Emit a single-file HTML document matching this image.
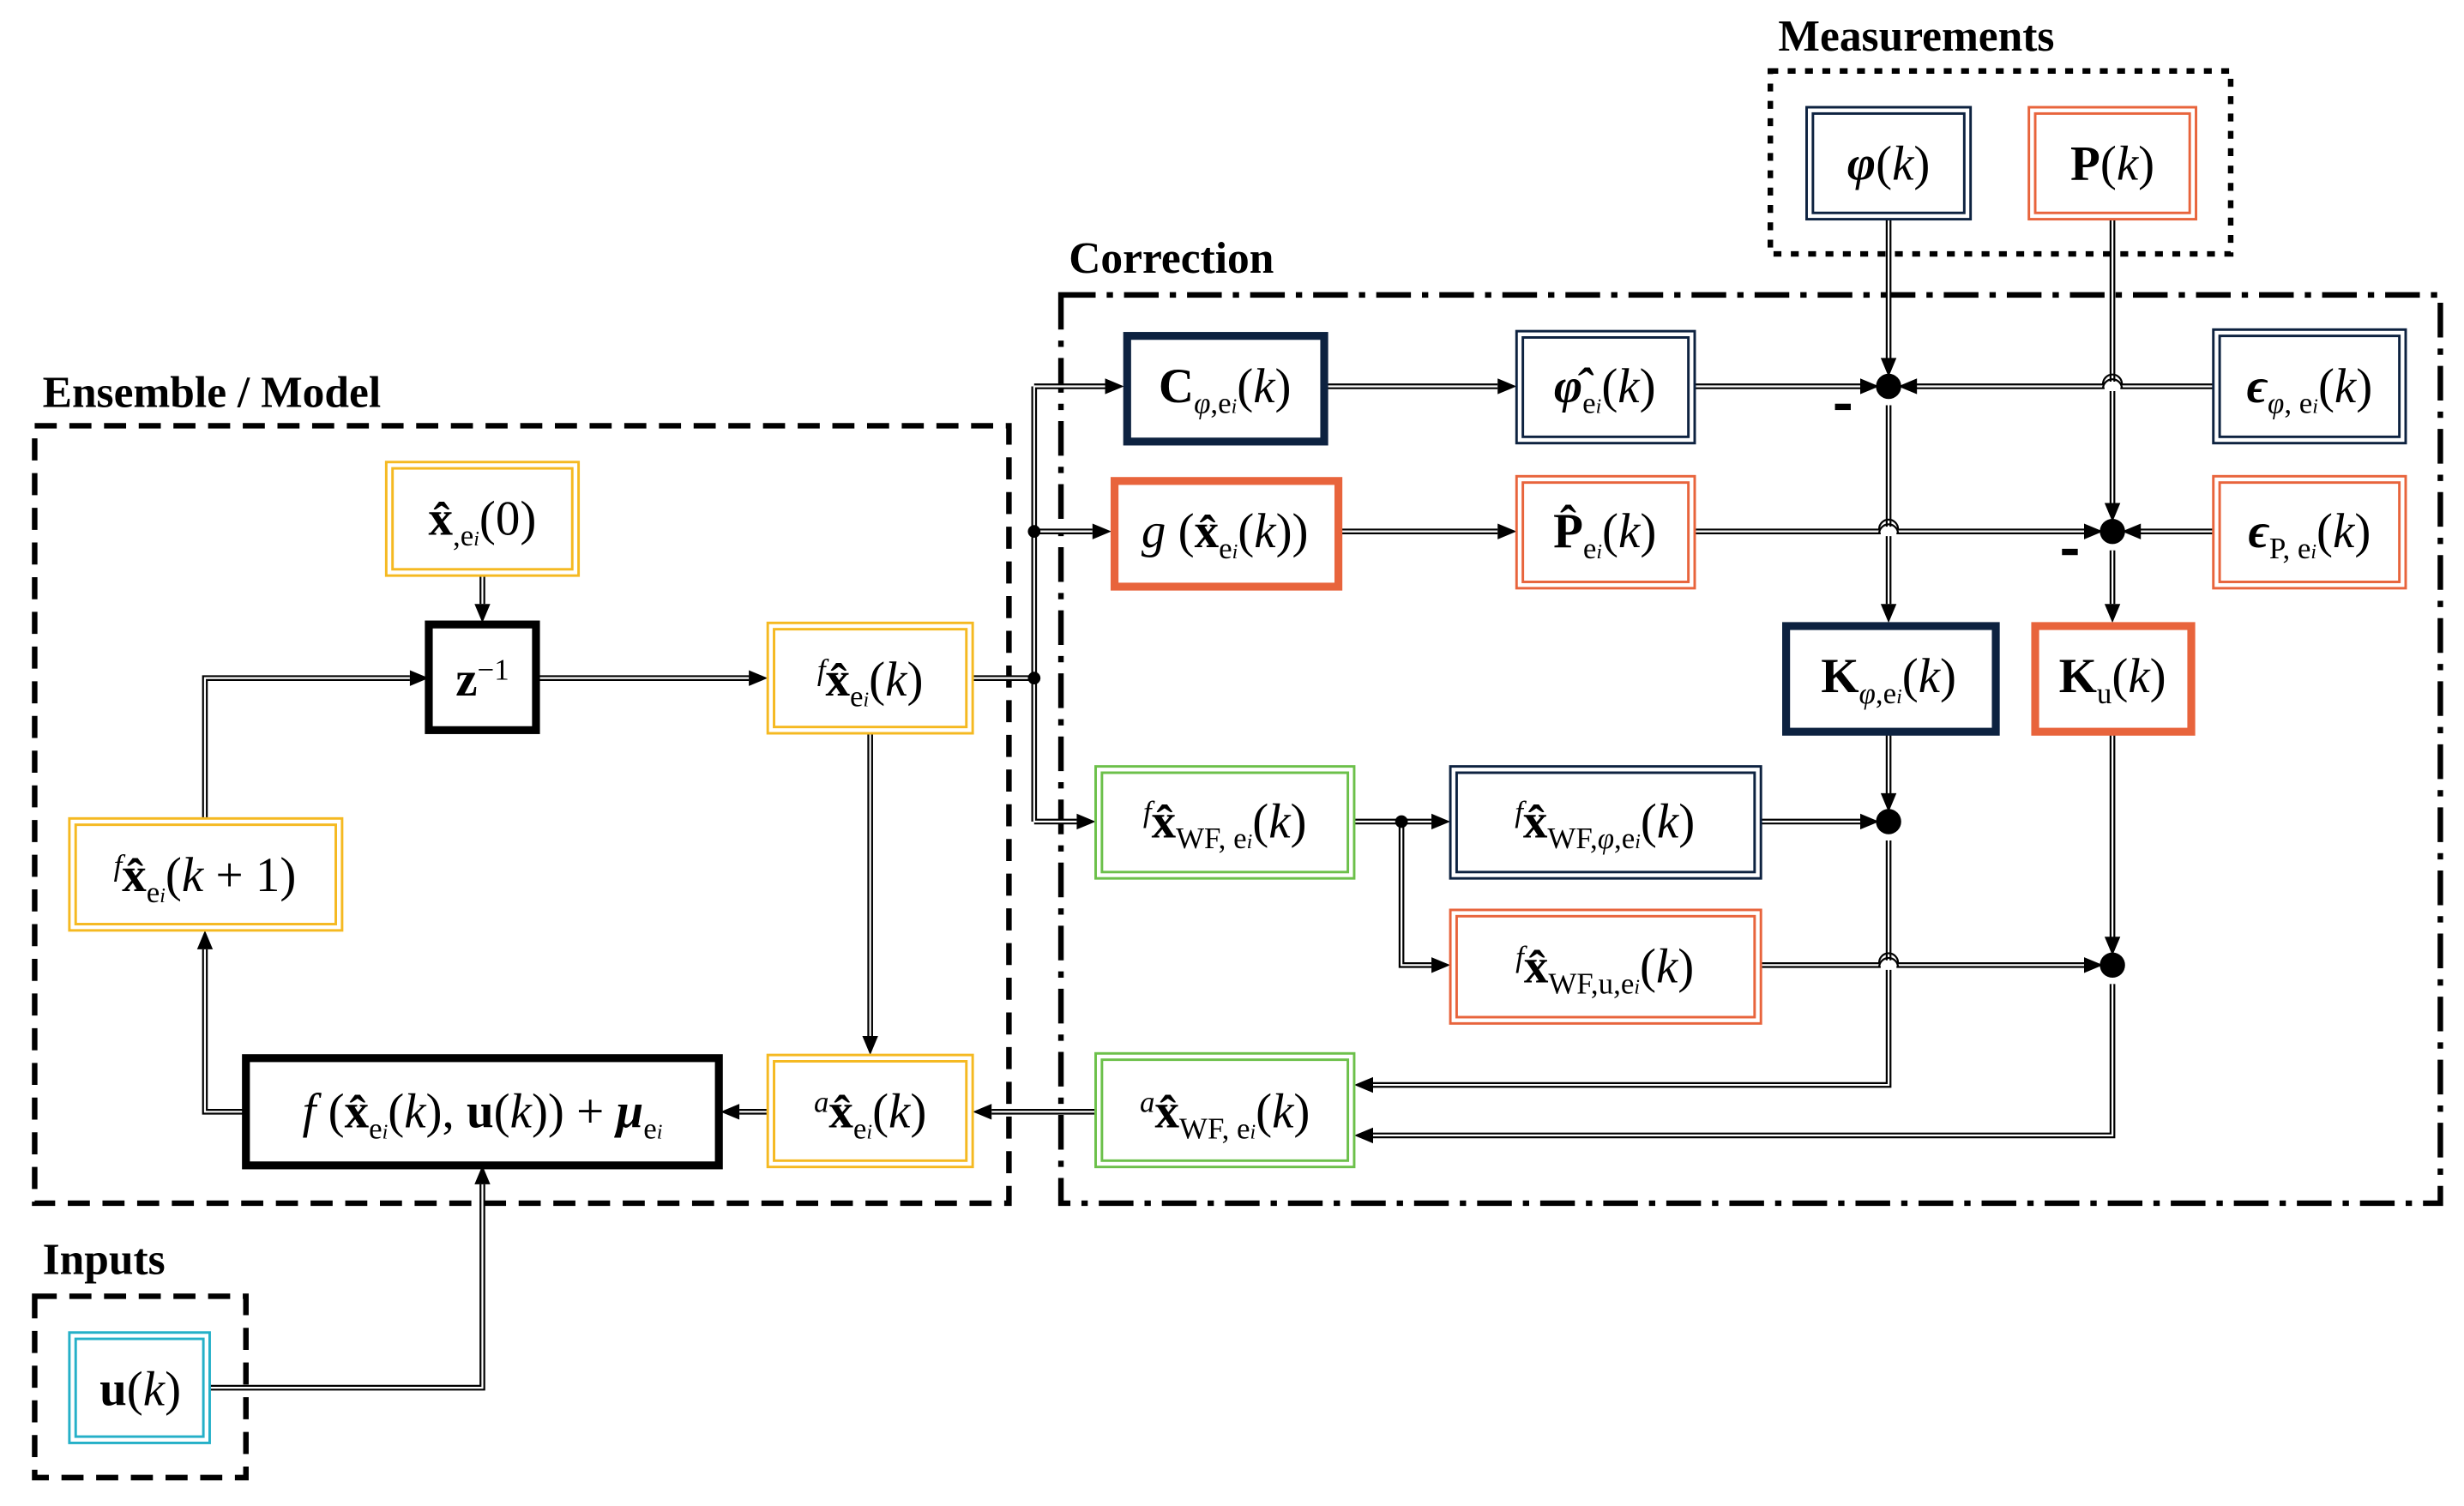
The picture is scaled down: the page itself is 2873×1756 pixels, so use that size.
<!DOCTYPE html>
<html><head><meta charset="utf-8"><style>
html,body{margin:0;padding:0;background:#fff}
svg{display:block}
text{font-family:"Liberation Serif",serif;font-size:31px;fill:#000}
.t{font-family:"Liberation Serif",serif;font-weight:bold;font-size:28px}
.s{font-size:19px}
.b{font-weight:bold;font-style:normal}
.i{font-style:italic}
</style></head><body>
<svg width="2873" height="1756" viewBox="0 0 1563 955" preserveAspectRatio="none" xmlns="http://www.w3.org/2000/svg">
<defs><polygon id="ar" points="0,0 -12,-5 -12,5" fill="#000"/>
<g id="L">
<path d="M306,365V383"/>
<path d="M340,430H475"/>
<path d="M617,430H656 M656,245V521 M656,245H701 M656,337H693 M656,521H683"/>
<path d="M552,465V657"/>
<path d="M487,705H469"/>
<path d="M155,705H130V602"/>
<path d="M130,519V430H260"/>
<path d="M133,880H306V751"/>
<path d="M840,245H950 M1075,245H1186 M1404,245H1210 M1198,139V233"/>
<path d="M849,337H950 M1075,337H1328 M1404,337H1352 M1340,139V325"/>
<path d="M1198,257V383 M1340,349V383"/>
<path d="M859,521H908 M889,521V612H908"/>
<path d="M1117,521H1186 M1198,464V509"/>
<path d="M1117,612H1328 M1340,464V600"/>
<path d="M1198,533V688H871 M1340,624V720H871"/>
<path d="M695,705H629"/>
</g></defs>
<rect width="1563" height="955" fill="#fff"/>
<g fill="none" stroke="#000" stroke-width="3.5">
<rect x="22" y="270" width="618" height="493" stroke-dasharray="14,8"/>
<rect x="22" y="822" width="134" height="115" stroke-dasharray="14,8"/>
<rect x="673" y="187" width="875" height="576" stroke-dasharray="22,7,4,7"/>
<rect x="1123" y="45" width="292" height="116" stroke-dasharray="5,6"/>
</g>
<text class="t" x="27" y="258">Ensemble / Model</text>
<text class="t" x="27" y="808">Inputs</text>
<text class="t" x="678" y="173">Correction</text>
<text class="t" x="1128" y="32">Measurements</text>
<g fill="none">
<use href="#L" stroke="#000" stroke-width="3.6"/>
<use href="#L" stroke="#fff" stroke-width="1.2"/>
</g>
<g fill="none" stroke-width="1.2">
<g stroke="#fff" stroke-width="6"><path d="M1335,245h10 M1193,337h10 M1193,612h10"/></g>
<g stroke="#000"><path d="M1334,243.5a6,6 0 0 1 12,0 M1334,246.5a6,6 0 0 1 12,0 M1192,335.5a6,6 0 0 1 12,0 M1192,338.5a6,6 0 0 1 12,0 M1192,610.5a6,6 0 0 1 12,0 M1192,613.5a6,6 0 0 1 12,0"/></g>
</g>
<g>
<use href="#ar" transform="translate(306,395) rotate(90)"/>
<use href="#ar" transform="translate(487,430)"/>
<use href="#ar" transform="translate(713,245)"/>
<use href="#ar" transform="translate(705,337)"/>
<use href="#ar" transform="translate(695,521)"/>
<use href="#ar" transform="translate(552,669) rotate(90)"/>
<use href="#ar" transform="translate(457,705) rotate(180)"/>
<use href="#ar" transform="translate(130,590) rotate(-90)"/>
<use href="#ar" transform="translate(272,430)"/>
<use href="#ar" transform="translate(306,739) rotate(-90)"/>
<use href="#ar" transform="translate(962,245)"/>
<use href="#ar" transform="translate(1192,245)"/>
<use href="#ar" transform="translate(1204,245) rotate(180)"/>
<use href="#ar" transform="translate(1198,239) rotate(90)"/>
<use href="#ar" transform="translate(962,337)"/>
<use href="#ar" transform="translate(1334,337)"/>
<use href="#ar" transform="translate(1346,337) rotate(180)"/>
<use href="#ar" transform="translate(1340,331) rotate(90)"/>
<use href="#ar" transform="translate(1198,395) rotate(90)"/>
<use href="#ar" transform="translate(1340,395) rotate(90)"/>
<use href="#ar" transform="translate(920,521)"/>
<use href="#ar" transform="translate(920,612)"/>
<use href="#ar" transform="translate(1192,521)"/>
<use href="#ar" transform="translate(1198,515) rotate(90)"/>
<use href="#ar" transform="translate(1334,612)"/>
<use href="#ar" transform="translate(1340,606) rotate(90)"/>
<use href="#ar" transform="translate(859,688) rotate(180)"/>
<use href="#ar" transform="translate(859,720) rotate(180)"/>
<use href="#ar" transform="translate(617,705) rotate(180)"/>
</g>
<g fill="#000">
<circle cx="656" cy="430" r="4"/><circle cx="656" cy="337" r="4"/><circle cx="889" cy="521" r="4"/>
<circle cx="1198" cy="245" r="8"/><circle cx="1340" cy="337" r="8"/>
<circle cx="1198" cy="521" r="8"/><circle cx="1340" cy="612" r="8"/>
<rect x="1164" y="256" width="10" height="4"/><rect x="1308" y="348" width="10" height="4"/>
</g>
<g fill="#fff" stroke-width="1.6">
<g stroke="#f5b921">
<rect x="245" y="293" width="122" height="72"/><rect x="249" y="297" width="114" height="64"/>
<rect x="487" y="395" width="130" height="70"/><rect x="491" y="399" width="122" height="62"/>
<rect x="44" y="519" width="173" height="71"/><rect x="48" y="523" width="165" height="63"/>
<rect x="487" y="669" width="130" height="71"/><rect x="491" y="673" width="122" height="63"/>
</g>
<g stroke="#25b0c8">
<rect x="44" y="845" width="89" height="70"/><rect x="48" y="849" width="81" height="62"/>
</g>
<g stroke="#0d2240">
<rect x="962" y="210" width="113" height="71"/><rect x="966" y="214" width="105" height="63"/>
<rect x="1146" y="68" width="104" height="71"/><rect x="1150" y="72" width="96" height="63"/>
<rect x="1404" y="209" width="122" height="72"/><rect x="1408" y="213" width="114" height="64"/>
<rect x="920" y="486" width="197" height="71"/><rect x="924" y="490" width="189" height="63"/>
</g>
<g stroke="#e8643c">
<rect x="962" y="302" width="113" height="71"/><rect x="966" y="306" width="105" height="63"/>
<rect x="1287" y="68" width="106" height="71"/><rect x="1291" y="72" width="98" height="63"/>
<rect x="1404" y="302" width="122" height="71"/><rect x="1408" y="306" width="114" height="63"/>
<rect x="920" y="577" width="197" height="72"/><rect x="924" y="581" width="189" height="64"/>
</g>
<g stroke="#6cc04a">
<rect x="695" y="486" width="164" height="71"/><rect x="699" y="490" width="156" height="63"/>
<rect x="695" y="668" width="164" height="72"/><rect x="699" y="672" width="156" height="64"/>
</g>
<g stroke-width="5">
<rect x="272" y="396" width="68" height="67" stroke="#000"/>
<rect x="156" y="671" width="300" height="68" stroke="#000"/>
<rect x="715" y="213" width="125" height="67" stroke="#0d2240"/>
<rect x="707" y="305" width="142" height="67" stroke="#e8643c"/>
<rect x="1133" y="397" width="133" height="67" stroke="#0d2240"/>
<rect x="1291" y="397" width="99" height="67" stroke="#e8643c"/>
</g>
</g>
<g text-anchor="middle">
<text x="306" y="339"><tspan class="b">x̂</tspan><tspan class="s" dy="7">,e</tspan><tspan class="i" font-size="13">i</tspan><tspan dy="-7">(0)</tspan></text>
<text x="306" y="441"><tspan class="b">z</tspan><tspan class="s" dy="-10">−1</tspan></text>
<text x="552" y="441"><tspan class="s i" dy="-10">f</tspan><tspan class="b" dy="10">x̂</tspan><tspan class="s" dy="7">e</tspan><tspan class="i" font-size="13">i</tspan><tspan dy="-7">(</tspan><tspan class="i">k</tspan>)</text>
<text x="130" y="565"><tspan class="s i" dy="-10">f</tspan><tspan class="b" dy="10">x̂</tspan><tspan class="s" dy="7">e</tspan><tspan class="i" font-size="13">i</tspan><tspan dy="-7">(</tspan><tspan class="i">k</tspan> + 1)</text>
<text x="306" y="715"><tspan class="i">f</tspan> (<tspan class="b">x̂</tspan><tspan class="s" dy="7">e</tspan><tspan class="i" font-size="13">i</tspan><tspan dy="-7">(</tspan><tspan class="i">k</tspan>), <tspan class="b">u</tspan>(<tspan class="i">k</tspan>)) + <tspan class="b i">μ</tspan><tspan class="s" dy="7">e</tspan><tspan class="i" font-size="13">i</tspan></text>
<text x="552" y="715"><tspan class="s i" dy="-10">a</tspan><tspan class="b" dy="10">x̂</tspan><tspan class="s" dy="7">e</tspan><tspan class="i" font-size="13">i</tspan><tspan dy="-7">(</tspan><tspan class="i">k</tspan>)</text>
<text x="89" y="891"><tspan class="b">u</tspan>(<tspan class="i">k</tspan>)</text>
<text x="777" y="255"><tspan class="b">C</tspan><tspan class="s" dy="7"><tspan class="i">φ</tspan>,e</tspan><tspan class="i" font-size="13">i</tspan><tspan dy="-7">(</tspan><tspan class="i">k</tspan>)</text>
<text x="777" y="347"><tspan class="i">g</tspan> (<tspan class="b">x̂</tspan><tspan class="s" dy="7">e</tspan><tspan class="i" font-size="13">i</tspan><tspan dy="-7">(</tspan><tspan class="i">k</tspan>))</text>
<text x="1018" y="255"><tspan class="b i">φ̂</tspan><tspan class="s" dy="7">e</tspan><tspan class="i" font-size="13">i</tspan><tspan dy="-7">(</tspan><tspan class="i">k</tspan>)</text>
<text x="1018" y="347"><tspan class="b">P̂</tspan><tspan class="s" dy="7">e</tspan><tspan class="i" font-size="13">i</tspan><tspan dy="-7">(</tspan><tspan class="i">k</tspan>)</text>
<text x="1198" y="114"><tspan class="b i">φ</tspan>(<tspan class="i">k</tspan>)</text>
<text x="1340" y="114"><tspan class="b">P</tspan>(<tspan class="i">k</tspan>)</text>
<text x="1465" y="255"><tspan class="b i">ϵ</tspan><tspan class="s" dy="7"><tspan class="i">φ</tspan>, e</tspan><tspan class="i" font-size="13">i</tspan><tspan dy="-7">(</tspan><tspan class="i">k</tspan>)</text>
<text x="1465" y="347"><tspan class="b i">ϵ</tspan><tspan class="s" dy="7">P, e</tspan><tspan class="i" font-size="13">i</tspan><tspan dy="-7">(</tspan><tspan class="i">k</tspan>)</text>
<text x="1198" y="439"><tspan class="b">K</tspan><tspan class="s" dy="7"><tspan class="i">φ</tspan>,e</tspan><tspan class="i" font-size="13">i</tspan><tspan dy="-7">(</tspan><tspan class="i">k</tspan>)</text>
<text x="1340" y="439"><tspan class="b">K</tspan><tspan class="s" dy="7">u</tspan><tspan dy="-7">(</tspan><tspan class="i">k</tspan>)</text>
<text x="777" y="531"><tspan class="s i" dy="-10">f</tspan><tspan class="b" dy="10">x̂</tspan><tspan class="s" dy="7">WF, e</tspan><tspan class="i" font-size="13">i</tspan><tspan dy="-7">(</tspan><tspan class="i">k</tspan>)</text>
<text x="1018" y="531"><tspan class="s i" dy="-10">f</tspan><tspan class="b" dy="10">x̂</tspan><tspan class="s" dy="7">WF,<tspan class="i">φ</tspan>,e</tspan><tspan class="i" font-size="13">i</tspan><tspan dy="-7">(</tspan><tspan class="i">k</tspan>)</text>
<text x="1018" y="623"><tspan class="s i" dy="-10">f</tspan><tspan class="b" dy="10">x̂</tspan><tspan class="s" dy="7">WF,u,e</tspan><tspan class="i" font-size="13">i</tspan><tspan dy="-7">(</tspan><tspan class="i">k</tspan>)</text>
<text x="777" y="715"><tspan class="s i" dy="-10">a</tspan><tspan class="b" dy="10">x̂</tspan><tspan class="s" dy="7">WF, e</tspan><tspan class="i" font-size="13">i</tspan><tspan dy="-7">(</tspan><tspan class="i">k</tspan>)</text>
</g>
</svg>
</body></html>
